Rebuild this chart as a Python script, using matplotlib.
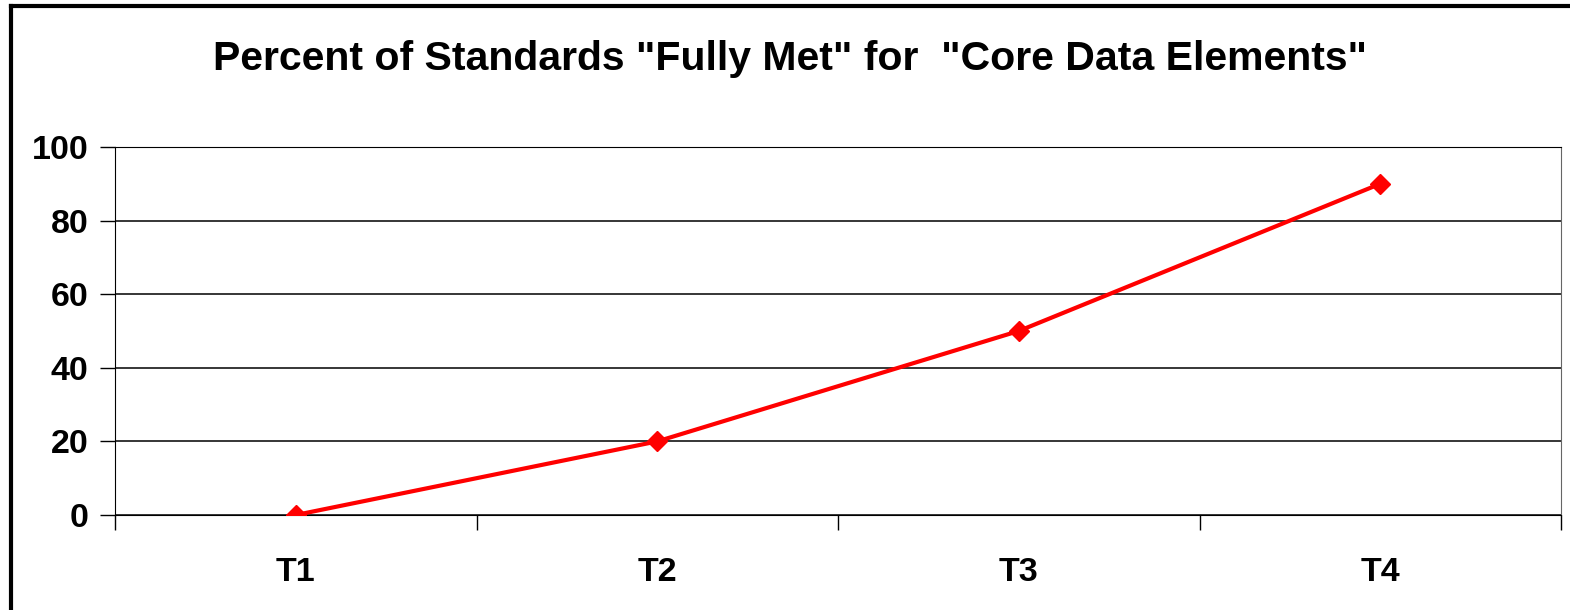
import matplotlib.pyplot as plt
from matplotlib.lines import Line2D

plt.rcParams['font.family'] = ['Liberation Sans', 'DejaVu Sans']
plt.rcParams['font.weight'] = 'bold'

# data
periods = ['T1', 'T2', 'T3', 'T4']
pct_fully_met = [0, 20, 50, 90]

fig = plt.figure(figsize=(15.7, 6.1), dpi=100)
ax = fig.add_axes([115/1570, 95/610, (1561-115)/1570, (515-147)/610])

x = list(range(len(periods)))
ax.plot(x, pct_fully_met, color='red', linewidth=3, marker='D', markersize=10, zorder=3)

ax.set_xlim(-0.5, len(periods) - 0.5)
ax.set_ylim(0, 100)
ax.set_yticks(range(0, 101, 20))
ax.yaxis.grid(True, color='black', linewidth=1.1)
ax.set_axisbelow(True)

# category labels centered, tick marks on the boundaries
ax.set_xticks([i - 0.5 for i in range(len(periods) + 1)])
ax.set_xticklabels([])
ax.set_xticks(x, minor=True)
ax.set_xticklabels(periods, minor=True, fontsize=24.5, fontweight='bold')
ax.tick_params(axis='x', which='minor', length=0, pad=30)
ax.tick_params(axis='x', which='major', length=11, width=1, direction='out')
ax.tick_params(axis='y', length=11, width=1, labelsize=24.5, pad=8)
for lab in ax.get_yticklabels():
    lab.set_fontweight('bold')

ax.spines['right'].set_color('#666666')
for s in ['left', 'bottom', 'top']:
    ax.spines[s].set_color('black')

fig.text(790/1570, 1 - 59/610, 'Percent of Standards "Fully Met" for  "Core Data Elements"',
         ha='center', va='center', fontsize=29.5, fontweight='bold')

# outer frame (only top and left visible in the picture)
fig.add_artist(Line2D([11/1570, 11/1570], [0, 1 - 6/610], transform=fig.transFigure,
                      color='black', linewidth=3))
fig.add_artist(Line2D([11/1570, 1], [1 - 6/610, 1 - 6/610], transform=fig.transFigure,
                      color='black', linewidth=3))

fig.savefig('out.png', dpi=100)
